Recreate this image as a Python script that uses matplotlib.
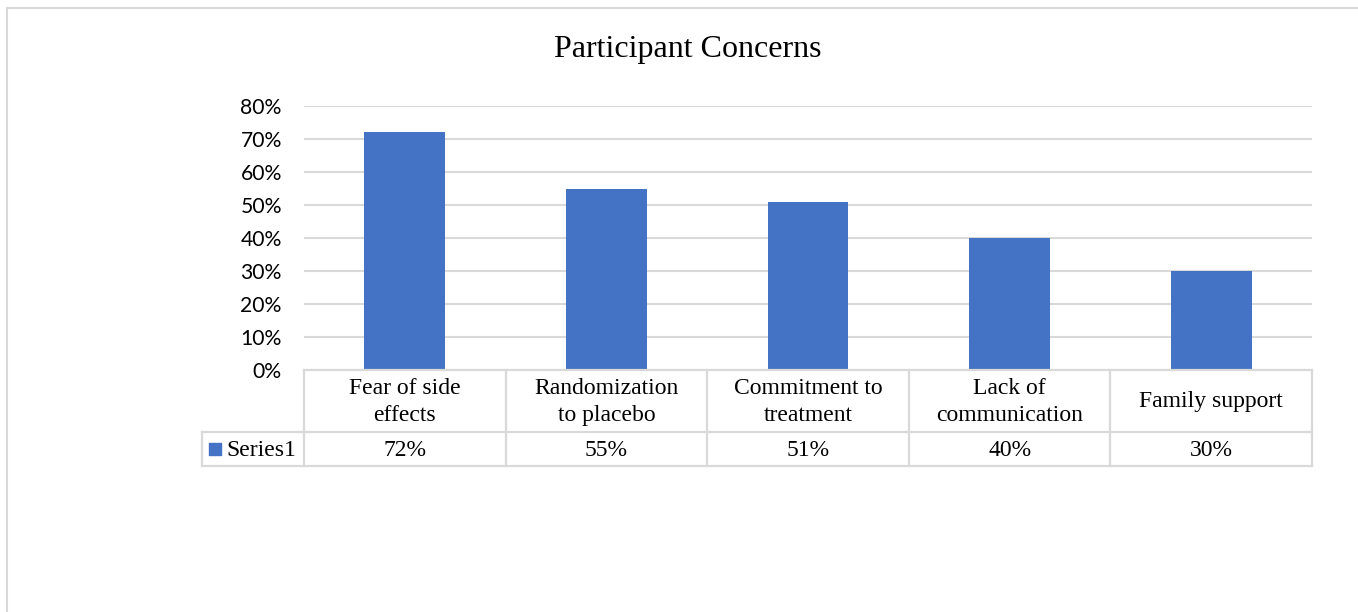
import numpy as np
import matplotlib.pyplot as plt
from matplotlib.patches import Rectangle
from matplotlib.ticker import PercentFormatter

# data
categories = ["Fear of side\neffects", "Randomization\nto placebo", "Commitment to\ntreatment",
              "Lack of\ncommunication", "Family support"]
values = [0.72, 0.55, 0.51, 0.40, 0.30]
value_labels = ["72%", "55%", "51%", "40%", "30%"]
series_name = "Series1"
yticks = [0, 0.1, 0.2, 0.3, 0.4, 0.5, 0.6, 0.7, 0.8]

W, H = 1358, 612
blue = "#4472C4"
grid = "#D9D9D9"
serif = "Liberation Serif"
sans = "Lato"

fig = plt.figure(figsize=(W / 100, H / 100), dpi=100)

def fx(px):
    return px / W

def fy(py):
    return 1 - py / H

# outer chart border (only left/top visible in crop)
fig.add_artist(Rectangle((fx(7), fy(700)), fx(1400), fy(8) - fy(700), transform=fig.transFigure,
                         fill=False, edgecolor=grid, lw=1.5))

# bar plot area
ax = fig.add_axes([fx(304), fy(370), fx(1312) - fx(304), fy(106) - fy(370)])
x = np.arange(len(values))
ax.bar(x, values, width=0.4, color=blue, zorder=3)
ax.set_xlim(-0.5, len(values) - 0.5)
ax.set_ylim(0, 0.8)
ax.set_yticks(yticks)
ax.yaxis.set_major_formatter(PercentFormatter(1.0, decimals=0))
ax.grid(axis="y", color=grid, lw=1.5, zorder=0)
ax.tick_params(axis="y", length=0, pad=16, labelsize=15.2)
for lab in ax.get_yticklabels():
    lab.set_fontfamily(sans)
ax.set_xticks([])
for s in ax.spines.values():
    s.set_visible(False)

fig.text(fx(688), fy(50), "Participant Concerns", ha="center", va="center",
         fontsize=23, family=serif)

# data table under the axis
tab = fig.add_axes([fx(202), fy(466), fx(1312) - fx(202), fy(370) - fy(466)])
left = -0.5 - 102 / 201.6
tab.set_xlim(left, len(values) - 0.5)
tab.set_ylim(0, 96)
tab.axis("off")
row_split = 34
edges = np.arange(len(values) + 1) - 0.5
for e in edges:
    tab.plot([e, e], [0, 96], color=grid, lw=1.6, clip_on=False)
tab.plot([edges[0], edges[-1]], [96, 96], color=grid, lw=1.6, clip_on=False)
tab.plot([left, edges[-1]], [row_split, row_split], color=grid, lw=1.6, clip_on=False)
tab.plot([left, edges[-1]], [0, 0], color=grid, lw=1.6, clip_on=False)
tab.plot([left, left], [0, row_split], color=grid, lw=1.6, clip_on=False)

for i, (c, v) in enumerate(zip(categories, value_labels)):
    tab.text(i, (row_split + 96) / 2 - 1, c, ha="center", va="center", fontsize=17,
             family=serif, linespacing=1.4)
    tab.text(i, row_split / 2 - 1.5, v, ha="center", va="center", fontsize=17, family=serif)

# legend key + series name
tab.scatter([left + 0.065], [row_split / 2], marker="s", s=85, color=blue, clip_on=False)
tab.text(left + 0.12, row_split / 2 - 1.5, series_name, ha="left", va="center", fontsize=17, family=serif)

fig.savefig("out.png", dpi=100)
